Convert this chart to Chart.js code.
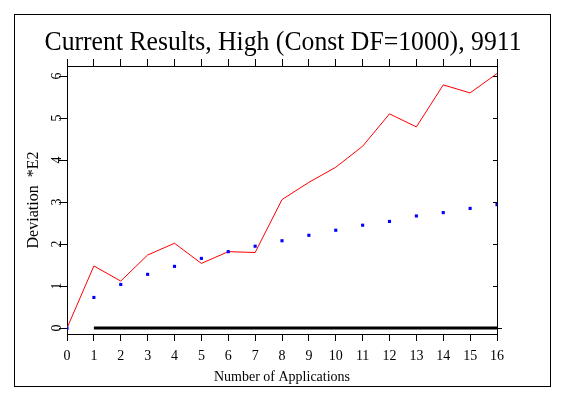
<!DOCTYPE html>
<html>
<head>
<meta charset="utf-8">
<script src="https://cdn.jsdelivr.net/npm/chart.js@4/dist/chart.umd.min.js"></script>
<style>
  html, body { margin: 0; padding: 0; background: #fff; }
  #wrap { width: 565px; height: 398px; }
</style>
</head>
<body>
<div id="wrap"><canvas id="chart" width="565" height="398"></canvas></div>
<script>
// data
var applications = [0, 1, 2, 3, 4, 5, 6, 7, 8, 9, 10, 11, 12, 13, 14, 15, 16];
var deviation = [0, 1.48, 1.12, 1.74, 2.02, 1.54, 1.82, 1.80, 3.06, 3.47, 3.83, 4.33, 5.10, 4.79, 5.79, 5.60, 6.06];
var expected = [0, 0.73, 1.04, 1.28, 1.47, 1.66, 1.82, 1.95, 2.08, 2.21, 2.33, 2.45, 2.54, 2.67, 2.75, 2.85, 2.94];
var baseX = [1, 16];
var baseY = [0, 0];
var yTicks = [0, 1, 2, 3, 4, 5, 6];

var titleText = 'Current Results, High (Const DF=1000), 9911';
var xTitle = 'Number of Applications';
var yTitle = 'Deviation  *E2';
var serif = '"Liberation Serif", "DejaVu Serif", serif';

function pts(xs, ys) {
    return xs.map(function (x, i) { return { x: x, y: ys[i] }; });
}

var decor = {
    id: 'decor',
    beforeDraw: function (chart) {
        var ctx = chart.ctx;
        ctx.save();
        ctx.fillStyle = '#fff';
        ctx.fillRect(0, 0, chart.width, chart.height);
        ctx.strokeStyle = '#000';
        ctx.lineWidth = 1;
        ctx.strokeRect(14.5, 14.5, 536, 372);
        ctx.restore();
    },
    afterDraw: function (chart) {
        var ctx = chart.ctx;
        var a = chart.chartArea;
        var ys = chart.scales.y;
        ctx.save();
        ctx.fillStyle = '#000';
        ctx.strokeStyle = '#000';
        ctx.lineWidth = 1;
        // title
        ctx.font = '28px ' + serif;
        ctx.textAlign = 'center';
        ctx.textBaseline = 'middle';
        ctx.fillText(titleText, 283, 43, 477);
        // x axis title
        ctx.font = '14px ' + serif;
        ctx.fillText(xTitle, 282, 377);
        // y tick labels, rotated
        yTicks.forEach(function (v) {
            var py = ys.getPixelForValue(v);
            ctx.save();
            ctx.translate(57, py);
            ctx.rotate(-Math.PI / 2);
            ctx.font = '14px ' + serif;
            ctx.fillText(String(v), 0, 0);
            ctx.restore();
            // inward ticks on the right side
            ctx.beginPath();
            ctx.moveTo(a.right - 4, Math.round(py) + 0.5);
            ctx.lineTo(a.right, Math.round(py) + 0.5);
            ctx.stroke();
        });
        // small overshoot of the zero line past the right axis
        var p0 = Math.round(ys.getPixelForValue(0)) + 0.5;
        ctx.beginPath();
        ctx.moveTo(a.right, p0);
        ctx.lineTo(a.right + 5, p0);
        ctx.stroke();
        // y title
        ctx.save();
        ctx.translate(34, 200);
        ctx.rotate(-Math.PI / 2);
        ctx.font = '16px ' + serif;
        ctx.fillText(yTitle, 0, 0);
        ctx.restore();
        ctx.restore();
    }
};

var axisFont = { family: serif, size: 14 };

new Chart(document.getElementById('chart'), {
    type: 'line',
    data: {
        datasets: [
            {
                data: pts(baseX, baseY),
                borderColor: '#000',
                borderWidth: 3,
                pointRadius: 0,
                order: 3
            },
            {
                data: pts(applications, deviation),
                borderColor: '#ff0000',
                borderWidth: 1,
                pointRadius: 0,
                tension: 0,
                order: 2
            },
            {
                data: pts(applications, expected),
                showLine: false,
                pointStyle: 'rect',
                pointRadius: 2.2,
                pointBorderWidth: 0,
                pointBackgroundColor: '#0000ff',
                order: 1
            }
        ]
    },
    options: {
        responsive: false,
        animation: false,
        devicePixelRatio: 1,
        layout: { padding: 0 },
        plugins: {
            legend: { display: false },
            title: { display: false },
            tooltip: { enabled: false }
        },
        scales: {
            x: {
                type: 'linear',
                position: 'bottom',
                min: 0,
                max: 16,
                afterFit: function (s) { s.height = 64; },
                ticks: { stepSize: 1, color: '#000', font: axisFont, padding: 7, maxRotation: 0 },
                grid: { drawOnChartArea: false, tickLength: 7, color: '#000' },
                border: { color: '#000', width: 1 }
            },
            x2: {
                type: 'linear',
                position: 'top',
                min: 0,
                max: 16,
                afterFit: function (s) { s.height = 66; },
                ticks: { stepSize: 1, display: false },
                grid: { drawOnChartArea: false, tickLength: 7, color: '#000' },
                border: { color: '#000', width: 1 }
            },
            y: {
                type: 'linear',
                position: 'left',
                min: -0.14,
                max: 6.24,
                afterFit: function (s) { s.width = 67; },
                ticks: { stepSize: 1, includeBounds: false, display: false },
                grid: { drawOnChartArea: false, tickLength: 8, color: '#000' },
                border: { color: '#000', width: 1 }
            },
            y2: {
                type: 'linear',
                position: 'right',
                min: -0.14,
                max: 6.24,
                afterFit: function (s) { s.width = 68; },
                ticks: { display: false },
                grid: { display: false },
                border: { color: '#000', width: 1 }
            }
        }
    },
    plugins: [decor]
});
</script>
</body>
</html>
